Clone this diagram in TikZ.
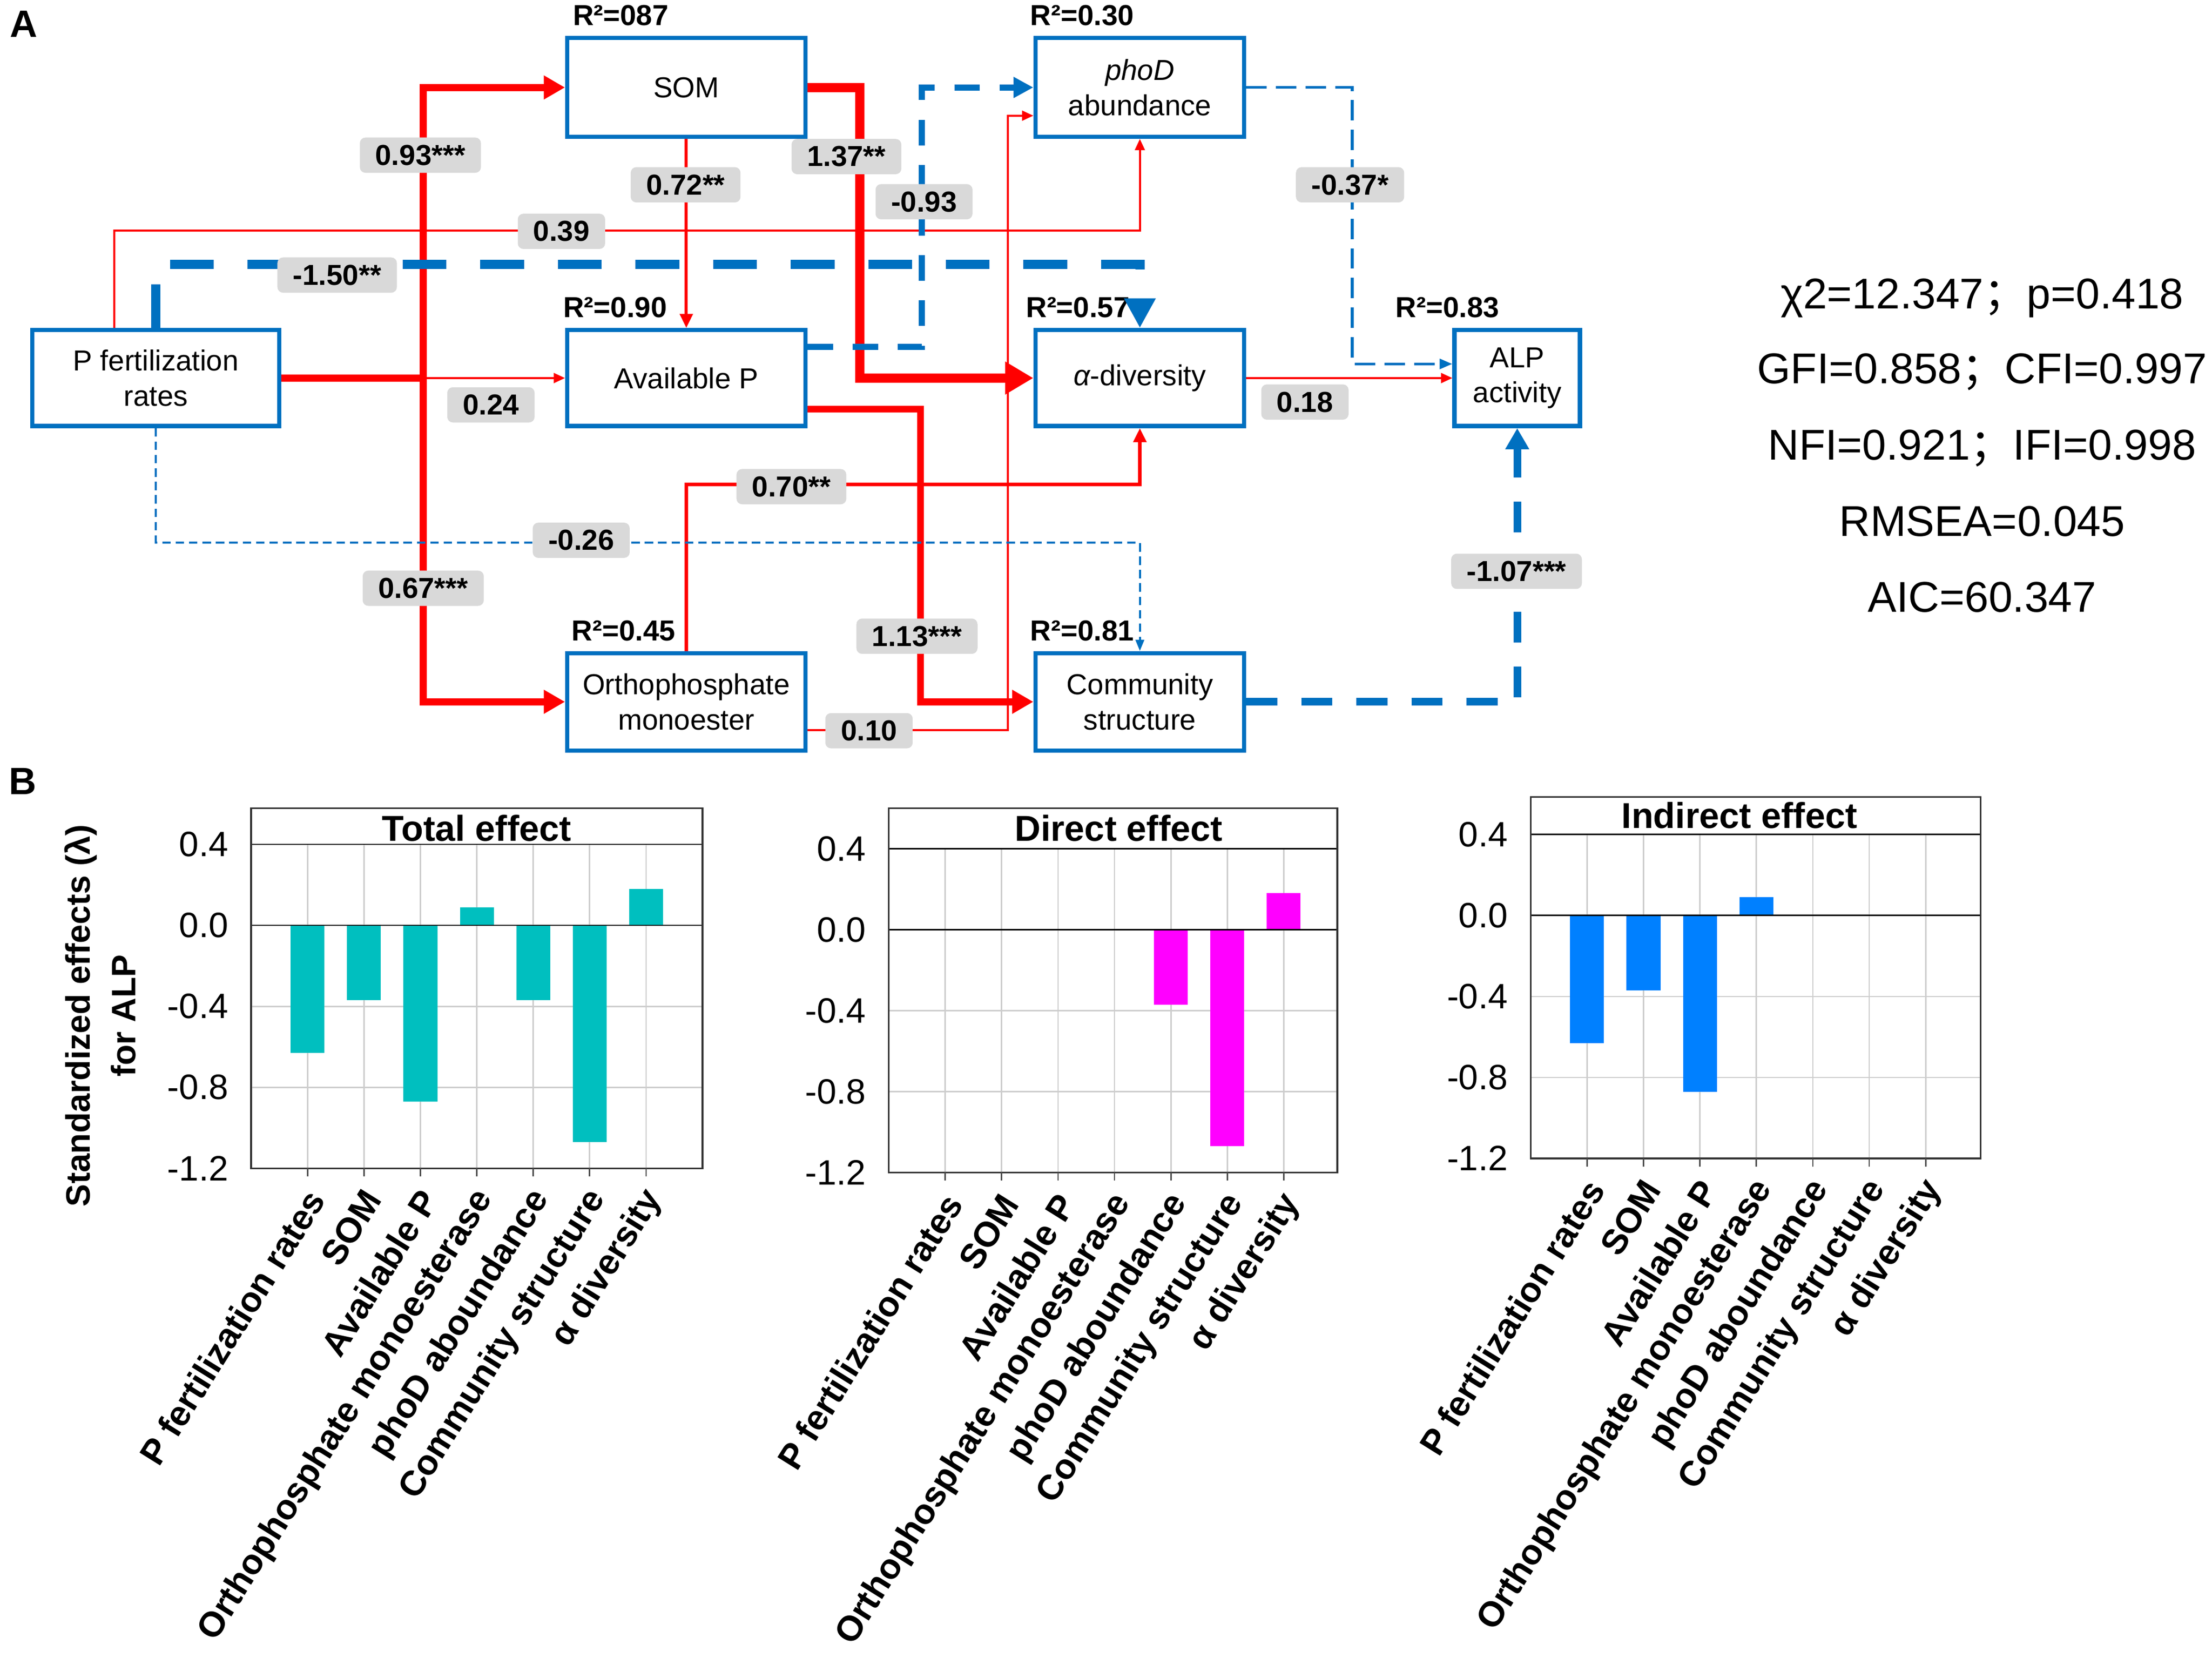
\documentclass[tikz,border=0pt]{standalone}
\usepackage{fontspec}
\setmainfont{Liberation Sans}
\newfontfamily\cjkfont{Noto Sans CJK SC}
\usetikzlibrary{arrows.meta}
\usetikzlibrary{calc}

\definecolor{semblue}{RGB}{0,112,192}
\definecolor{semred}{RGB}{255,0,0}
\definecolor{coefgray}{RGB}{217,217,217}
\definecolor{totalc}{RGB}{0,191,191}
\definecolor{directc}{RGB}{255,0,255}
\definecolor{indirectc}{RGB}{0,128,255}
\definecolor{gridc}{RGB}{205,205,205}

\tikzset{
  varbox/.style={draw=semblue, line width=3pt, fill=white, inner sep=0pt, align=center, font=\fontsize{20.5}{25}\selectfont},
  rsq/.style={inner sep=0pt, font=\bfseries\fontsize{20.5}{22}\selectfont},
  coef/.style={fill=coefgray, rounded corners=4pt, inner xsep=11pt, inner ysep=0pt, minimum height=25pt, font=\bfseries\fontsize{20.5}{22}\selectfont},
  pthin/.style={draw=semred, line width=1.4pt, -{Triangle[length=8pt,width=7pt]}},
  pmid/.style={draw=semred, line width=2.6pt, -{Triangle[length=10pt,width=9pt]}},
  pthick/.style={draw=semred, line width=5pt, -{Triangle[length=15pt,width=16pt]}},
  pxthick/.style={draw=semred, line width=6.5pt, -{Triangle[length=20pt,width=22pt]}},
  nfine/.style={draw=semblue, line width=1.5pt, dash pattern=on 6pt off 3.5pt, -{Triangle[length=8pt,width=6pt]}},
  nthin/.style={draw=semblue, line width=2pt, dash pattern=on 14.5pt off 6.5pt, -{Triangle[length=9pt,width=7pt]}},
  nmid/.style={draw=semblue, line width=4.5pt, dash pattern=on 18pt off 14pt, -{Triangle[length=14pt,width=14pt]}},
  nthick/.style={draw=semblue, line width=6.5pt, dash pattern=on 31pt off 24pt, -{Triangle[length=21pt,width=21pt]}},
  ytick/.style={anchor=east, inner sep=0pt, font=\fontsize{25}{28}\selectfont},
  xcat/.style={anchor=east, rotate=58, inner sep=0pt, font=\bfseries\fontsize{25}{28}\selectfont},
  effttl/.style={inner sep=0pt, font=\bfseries\fontsize{25.5}{28}\selectfont},
  fitstat/.style={anchor=base, inner sep=0pt, font=\fontsize{30.5}{34}\selectfont}
}

\begin{document}
\begin{tikzpicture}[x=1pt,y=1pt,yscale=-1,xscale=1]
\useasboundingbox (0,0) rectangle (1568,1175);

% panel letters
\node[inner sep=0pt, font=\bfseries\fontsize{27}{30}\selectfont] (lettA) at (17,17) {A};
\node[inner sep=0pt, font=\bfseries\fontsize{27}{30}\selectfont] (lettB) at (16,554) {B};

% variables
\node[varbox, minimum width=169pt, minimum height=70pt] (som) at (486.5,62) {SOM};
\node[varbox, minimum width=148pt, minimum height=70pt] (phod) at (808,62) {\textit{phoD}\\abundance};
\node[varbox, minimum width=175pt, minimum height=68pt] (pfert) at (110.5,268) {P fertilization\\rates};
\node[varbox, minimum width=169pt, minimum height=68pt] (avp) at (486.5,268) {Available P};
\node[varbox, minimum width=148pt, minimum height=68pt] (alpha) at (808,268) {{\itshape α}-diversity};
\node[varbox, minimum width=89pt, minimum height=68pt] (alp) at (1075.5,268) {ALP\\activity};
\node[varbox, minimum width=169pt, minimum height=69pt] (ortho) at (486.5,497.5) {Orthophosphate\\monoester};
\node[varbox, minimum width=148pt, minimum height=69pt] (comm) at (808,497.5) {Community\\structure};

% R2 values
\node[rsq] (rsom) at (440,11) {R²=087};
\node[rsq] (rphod) at (767,11) {R²=0.30};
\node[rsq] (ravp) at (436,218) {R²=0.90};
\node[rsq] (ralpha) at (764,218) {R²=0.57};
\node[rsq] (ralp) at (1026,218) {R²=0.83};
\node[rsq] (rortho) at (442,447) {R²=0.45};
\node[rsq] (rcomm) at (767,447) {R²=0.81};

% paths
\coordinate (split) at (300,268);
\draw[pthick] (pfert.east) -- (split) |- (som.west);
\draw[pthick] (split) |- (ortho.west);
\draw[pthin] (split) -- (avp.west);
\draw[pthin] ($(pfert.north)+(-29.5,0)$) -- ++(0,-69) -| (phod.south);
\draw[nthick] (pfert.north) -- ++(0,-45) -| (alpha.north);
\draw[pmid, line width=2.2pt] (som.south) -- (avp.north);
\draw[pxthick] (som.east) -- ++(37,0) |- (alpha.west);
\draw[nmid] ($(avp.east)+(0,-22)$) -- ++(81,0) |- (phod.west);
\draw[pthick] ($(avp.east)+(0,22)$) -- ++(80,0) |- (comm.west);
\draw[pmid] (ortho.north) -- ++(0,-118) -| (alpha.south);
\draw[pthin] ($(ortho.east)+(0,20)$) -- ++(142,0) |- ($(phod.west)+(0,20)$);
\draw[nfine] (pfert.south) -- ++(0,81) -| (comm.north);
\draw[nthin] (phod.east) -- ++(75,0) |- ($(alp.west)+(0,-10)$);
\draw[pthin] (alpha.east) -- (alp.west);
\draw[nthick, line width=5.5pt, dash pattern=on 22pt off 17pt, -{Triangle[length=15pt,width=16pt]}] (comm.east) -| (alp.south);

% path coefficients
\node[coef] (k1) at (298,110) {0.93***};
\node[coef] (k2) at (486,131) {0.72**};
\node[coef] (k3) at (600,111) {1.37**};
\node[coef] (k4) at (655,143) {-0.93};
\node[coef] (k5) at (398,164) {0.39};
\node[coef] (k6) at (239,195) {-1.50**};
\node[coef] (k7) at (348,287) {0.24};
\node[coef] (k8) at (925,285) {0.18};
\node[coef] (k9) at (957,131) {-0.37*};
\node[coef] (k10) at (561,345) {0.70**};
\node[coef] (k11) at (412,383) {-0.26};
\node[coef] (k12) at (300,417) {0.67***};
\node[coef] (k13) at (650,451) {1.13***};
\node[coef] (k14) at (1075,405) {-1.07***};
\node[coef] (k15) at (616,518) {0.10};

% model fit
\node[fitstat] (fit1) at (1405,219) {χ2=12.347{\cjkfont ；}p=0.418};
\node[fitstat] (fit2) at (1405,272) {GFI=0.858{\cjkfont ；}CFI=0.997};
\node[fitstat] (fit3) at (1405,326) {NFI=0.921{\cjkfont ；}IFI=0.998};
\node[fitstat] (fit4) at (1405,380) {RMSEA=0.045};
\node[fitstat] (fit5) at (1405,434) {AIC=60.347};

% y axis title
\node[rotate=90, align=center, inner sep=0pt, font=\bfseries\fontsize{24}{32}\selectfont] (ylab) at (71,720) {Standardized effects (λ)\\for ALP};

% Total effect
\begin{scope}[shift={(178,656)}]
  \foreach \i in {1,...,7} \draw[gridc, line width=1pt] (40*\i,-57.4) -- (40*\i,172.2);
  \draw[gridc, line width=1pt] (0,57.4) -- (320,57.4) (0,114.8) -- (320,114.8);
  \foreach \i/\v in {1/-0.63,2/-0.37,3/-0.87,4/0.09,5/-0.37,6/-1.07,7/0.18}
    \fill[totalc] (40*\i-12,0) rectangle (40*\i+12,{-143.5*(\v)});
  \draw[line width=1pt] (0,0) -- (320,0) (0,-57.4) -- (320,-57.4);
  \draw[line width=1.2pt, black!80] (0,-83) rectangle (320,172.2);
  \foreach \i in {1,...,7} \draw[line width=1pt, black!70] (40*\i,172.2) -- (40*\i,178);
  \node[effttl] (ttot) at (160,-69) {Total effect};
  \foreach \y/\t in {-57.4/0.4,0/0.0,57.4/-0.4,114.8/-0.8,172.2/-1.2}
    \node[ytick] at (-16,\y) {\t};
  \foreach \i/\t in {1/P fertilization rates,2/SOM,3/Available P,4/Orthophosphate monoesterase,5/phoD aboundance,6/Community structure,7/α diversity}
    \node[xcat] at (40*\i+6,190) {\t};
\end{scope}

% Direct effect
\begin{scope}[shift={(630,659)}]
  \foreach \i in {1,...,7} \draw[gridc, line width=1pt] (40*\i,-57.4) -- (40*\i,172.2);
  \draw[gridc, line width=1pt] (0,57.4) -- (318,57.4) (0,114.8) -- (318,114.8);
  \foreach \i/\v in {5/-0.37,6/-1.07,7/0.18}
    \fill[directc] (40*\i-12,0) rectangle (40*\i+12,{-143.5*(\v)});
  \draw[line width=1pt] (0,0) -- (318,0) (0,-57.4) -- (318,-57.4);
  \draw[line width=1.2pt, black!80] (0,-86) rectangle (318,172.2);
  \foreach \i in {1,...,7} \draw[line width=1pt, black!70] (40*\i,172.2) -- (40*\i,178);
  \node[effttl] (tdir) at (163,-72) {Direct effect};
  \foreach \y/\t in {-57.4/0.4,0/0.0,57.4/-0.4,114.8/-0.8,172.2/-1.2}
    \node[ytick] at (-16,\y) {\t};
  \foreach \i/\t in {1/P fertilization rates,2/SOM,3/Available P,4/Orthophosphate monoesterase,5/phoD aboundance,6/Community structure,7/α diversity}
    \node[xcat] at (40*\i+6,190) {\t};
\end{scope}

% Indirect effect
\begin{scope}[shift={(1085,649)}]
  \foreach \i in {1,...,7} \draw[gridc, line width=1pt] (40*\i,-57.4) -- (40*\i,172.2);
  \draw[gridc, line width=1pt] (0,57.4) -- (319,57.4) (0,114.8) -- (319,114.8);
  \foreach \i/\v in {1/-0.63,2/-0.37,3/-0.87,4/0.09}
    \fill[indirectc] (40*\i-12,0) rectangle (40*\i+12,{-143.5*(\v)});
  \draw[line width=1pt] (0,0) -- (319,0) (0,-57.4) -- (319,-57.4);
  \draw[line width=1.2pt, black!80] (0,-84) rectangle (319,172.2);
  \foreach \i in {1,...,7} \draw[line width=1pt, black!70] (40*\i,172.2) -- (40*\i,178);
  \node[effttl] (tind) at (148,-71) {Indirect effect};
  \foreach \y/\t in {-57.4/0.4,0/0.0,57.4/-0.4,114.8/-0.8,172.2/-1.2}
    \node[ytick] at (-16,\y) {\t};
  \foreach \i/\t in {1/P fertilization rates,2/SOM,3/Available P,4/Orthophosphate monoesterase,5/phoD aboundance,6/Community structure,7/α diversity}
    \node[xcat] at (40*\i+6,190) {\t};
\end{scope}

\end{tikzpicture}
\end{document}
